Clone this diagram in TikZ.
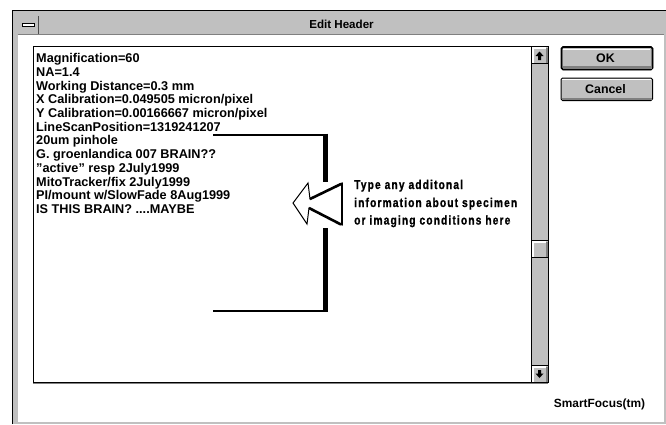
\documentclass[tikz,border=0pt]{standalone}
\usepackage{fontspec}
\setmainfont{Liberation Sans}
\newfontfamily\calloutfont[FakeStretch=0.8,LetterSpace=9,FakeBold=1]{Liberation Sans}
\definecolor{wingray}{HTML}{C0C0C0}
\definecolor{windark}{HTML}{808080}
\tikzset{
  x=1pt,y=-1pt,
  sysfont/.style={font=\fontsize{12.4}{14}\selectfont\bfseries},
  titlefont/.style={font=\fontsize{11.6}{14}\selectfont\bfseries},
  footfont/.style={font=\fontsize{11.9}{14}\selectfont\bfseries},
  listline/.style={anchor=base west,inner sep=0pt,font=\fontsize{12.7}{14}\selectfont\bfseries},
  btn/.style={draw=black,line width=1pt,fill=wingray,rounded corners=1.5pt},
  calloutline/.style={anchor=base west,inner sep=0pt,font=\fontsize{12.75}{14}\calloutfont\bfseries},
  bracket/.style={draw=black,line cap=butt},
}
\begin{document}
\begin{tikzpicture}
\useasboundingbox (0,0) rectangle (666,424);
% window frame
\fill[white] (0,0) rectangle (666,424);
\fill[wingray] (12,10) rectangle (666,424);
\draw[black,line width=1pt] (12.5,424) -- (12.5,10.5) -- (666,10.5);
\fill[white] (17.5,35) rectangle (664,421.5);
% title bar
\fill[wingray] (17.5,16) rectangle (664,35);
\draw[windark,line width=1pt] (17.5,34.5) -- (664,34.5);
\draw[windark!60!black,line width=.8pt] (38,16) -- (38,34);
\fill[white] (22,23.5) rectangle (34,26);
\draw[black,line width=.6pt] (22,23.2) rectangle (34,26.2);
\node[titlefont,inner sep=0pt] (title) at (341.5,24.5) {Edit Header};
% text box
\draw[black,line width=1pt,fill=white] (33,46.5) rectangle (548,382.5);
\draw[windark,line width=.8pt] (33,383) -- (548,383);
% scroll bar
\fill[wingray] (531,47) rectangle (548,382);
\draw[black,line width=1pt] (531,46.5) -- (531,382.5);
\draw[black,line width=1pt] (548,46.5) -- (548,382.5);
% up arrow button
\draw[black,line width=.8pt] (531,63.5) -- (548,63.5);
\fill[white] (532,47) rectangle (546,48.5);
\fill[white] (532,47) rectangle (533.5,63);
\fill[windark] (545.5,48) rectangle (547.5,63);
\fill[black] (539.5,51.5) -- (543.5,56) -- (541,56) -- (541,60) -- (538,60) -- (538,56) -- (535.5,56) -- cycle;
% thumb
\draw[black,line width=.8pt] (531,240.5) -- (548,240.5);
\draw[black,line width=.8pt] (531,257.5) -- (548,257.5);
\fill[white] (532,241) rectangle (546,242.5);
\fill[white] (532,241) rectangle (533.5,257);
\fill[windark] (545.5,242) rectangle (547.5,257);
% down arrow button
\draw[black,line width=.8pt] (531,365.5) -- (548,365.5);
\fill[white] (532,366) rectangle (546,367.5);
\fill[white] (532,366) rectangle (533.5,382);
\fill[windark] (545.5,367) rectangle (547.5,382);
\fill[black] (539.5,378) -- (543.5,373.5) -- (541,373.5) -- (541,370) -- (538,370) -- (538,373.5) -- (535.5,373.5) -- cycle;
% buttons
\draw[btn] (561.5,47) rectangle (652.5,69.5);
\draw[black,line width=1.6pt,rounded corners=1.5pt] (561.5,47) rectangle (652.5,69.5);
\fill[white] (563,48.5) rectangle (650,49.8);
\fill[windark] (563,66) rectangle (651.5,68.5);
\node[sysfont,inner sep=0pt] (ok) at (605.5,58.5) {OK};
\draw[btn] (561,78) rectangle (652.5,100.5);
\fill[white] (562,79) rectangle (651,80.3);
\fill[windark] (562,97.5) rectangle (652,100);
\node[sysfont,inner sep=0pt] (cancel) at (605.5,89.5) {Cancel};
% list text
\node[listline] (l1) at (36,62.5) {Magnification=60};
\node[listline] (l2) at (36,76.2) {NA=1.4};
\node[listline] (l3) at (36,90) {Working Distance=0.3 mm};
\node[listline] (l4) at (36,103.7) {X Calibration=0.049505 micron/pixel};
\node[listline] (l5) at (36,117.4) {Y Calibration=0.00166667 micron/pixel};
\node[listline] (l6) at (36,131.1) {LineScanPosition=1319241207};
\node[listline] (l7) at (36,144.9) {20um pinhole};
\node[listline] (l8) at (36,158.6) {G. groenlandica 007 BRAIN??};
\node[listline] (l9) at (36,172.3) {"active" resp 2July1999};
\node[listline] (l10) at (36,186) {MitoTracker/fix 2July1999};
\node[listline] (l11) at (36,199.8) {PI/mount w/SlowFade 8Aug1999};
\node[listline] (l12) at (36,213.5) {IS THIS BRAIN? ....MAYBE};
% bracket
\coordinate (bt) at (213,134.5);
\coordinate (bb) at (213,310.5);
\draw[bracket,line width=2pt] (bt) -- (328,134.5);
\draw[bracket,line width=2pt] (bb) -- (328,310.5);
\draw[bracket,line width=5pt] (325.5,133.5) -- (325.5,182);
\draw[bracket,line width=5pt] (325.5,228) -- (325.5,311.5);
% arrow
\draw[black,line width=1pt,line join=miter,fill=white] (293,203) -- (308,183) -- (310,199) -- (342,183) -- (342,225) -- (309,208) -- (307,224) -- cycle;
\draw[black,line width=2.6pt] (310,199) -- (341,184);
\draw[black,line width=2.6pt] (309,208) -- (341,224.5);
\draw[black,line width=1.4pt] (342,183) -- (342,225);
% callout
\node[calloutline] (c1) at (354,189) {Type any additonal};
\node[calloutline] (c2) at (354,207) {information about specimen};
\node[calloutline] (c3) at (354,224.5) {or imaging conditions here};
% footer
\node[footfont,inner sep=0pt] (sf) at (599.5,404.5) {SmartFocus(tm)};
\end{tikzpicture}
\end{document}
